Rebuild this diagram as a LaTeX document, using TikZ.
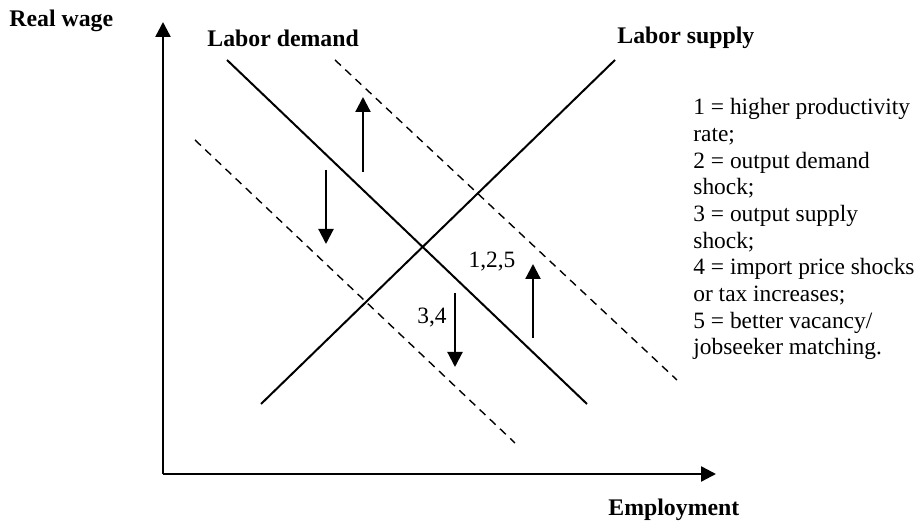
\documentclass[tikz,border=0pt]{standalone}
\usepackage{fontspec}
\setmainfont{Liberation Serif}
\usetikzlibrary{arrows.meta}
\begin{document}
\begin{tikzpicture}[x=0.5pt,y=-0.5pt,
  axis/.style={line width=1.2pt,-{Triangle[length=7.5pt,width=7.5pt]}},
  curve/.style={line width=1pt},
  shifted/.style={line width=0.7pt,dash pattern=on 4pt off 3pt},
  shiftarrow/.style={line width=1.1pt,-{Triangle[length=7.5pt,width=7.5pt]}},
  lbl/.style={font=\bfseries\fontsize{11.9}{13}\selectfont,inner sep=0pt},
  txt/.style={font=\fontsize{11.7}{13.35}\selectfont,inner sep=0pt}]
\useasboundingbox (0,0) rectangle (922,522);
% axes
\coordinate (O) at (163,474);
\coordinate (Ytip) at (163,22);
\coordinate (Xtip) at (716,474);
\draw[axis] (O) -- (Ytip);
\draw[axis] (O) -- (Xtip);
% curves
\coordinate (D1) at (227,60);
\coordinate (D2) at (587,404);
\coordinate (S1) at (261,404);
\coordinate (S2) at (615,60);
\coordinate (DU1) at (335,60);
\coordinate (DU2) at (677,380);
\coordinate (DL1) at (195,140);
\coordinate (DL2) at (515,443);
\draw[curve] (D1) -- (D2);
\draw[curve] (S1) -- (S2);
\draw[shifted] (DU1) -- (DU2);
\draw[shifted] (DL1) -- (DL2);
% shift arrows
\coordinate (A1s) at (363,172); \coordinate (A1e) at (363,97);
\coordinate (A2s) at (326,170); \coordinate (A2e) at (326,244);
\coordinate (A3s) at (455,293); \coordinate (A3e) at (455,367);
\coordinate (A4s) at (533,338); \coordinate (A4e) at (533,264);
\draw[shiftarrow] (A1s) -- (A1e);
\draw[shiftarrow] (A2s) -- (A2e);
\draw[shiftarrow] (A3s) -- (A3e);
\draw[shiftarrow] (A4s) -- (A4e);
% labels
\node[lbl,anchor=west] (rw) at (9,21) {Real wage};
\node[lbl,anchor=west] (ld) at (207,38) {Labor demand};
\node[lbl,anchor=west] (ls) at (617,38) {Labor supply};
\node[lbl,anchor=west] (em) at (608,510) {Employment};
\node[txt] (n125) at (492,262) {1,2,5};
\node[txt] (n34) at (432,318) {3,4};
\node[txt,anchor=north west,align=left] (legend) at (693,98) {1 = higher productivity\\rate;\\2 = output demand\\shock;\\3 = output supply\\shock;\\4 = import price shocks\\or tax increases;\\5 = better vacancy/\\jobseeker matching.};
\end{tikzpicture}
\end{document}
